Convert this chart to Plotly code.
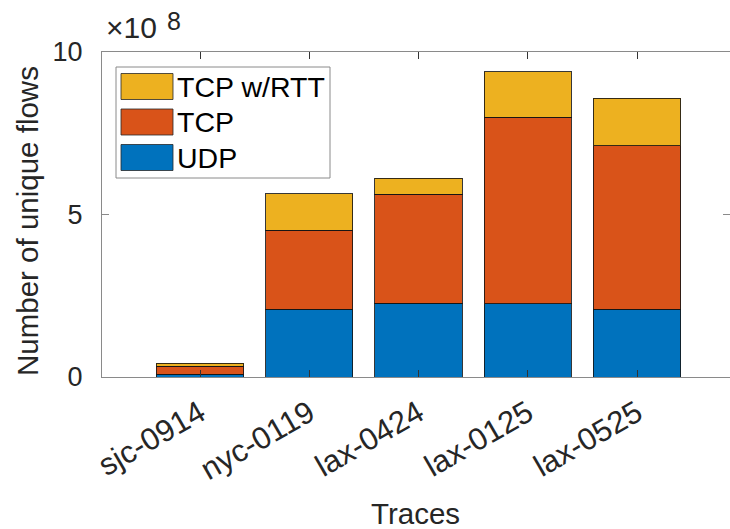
import plotly.graph_objects as go

# Unique flows per trace, in units of 1e8 flows
traces = ["sjc-0914", "nyc-0119", "lax-0424", "lax-0125", "lax-0525"]
udp_flows = [0.09, 2.09, 2.27, 2.26, 2.08]
tcp_flows = [0.24, 2.42, 3.36, 5.74, 5.03]
tcp_rtt_flows = [0.09, 1.13, 0.49, 1.40, 1.47]

series_names = ["UDP", "TCP", "TCP w/RTT"]
series_values = [udp_flows, tcp_flows, tcp_rtt_flows]
series_colors = ["#0072BD", "#D95319", "#EDB120"]

y_tick_values = [0, 5, 10]
y_tick_labels = ["0", "5", "10"]

W, H = 730, 529
L, R, T, B = 102, 0, 52, 152
FONT = "Liberation Sans, Arial, Helvetica, sans-serif"
TEXT = "#262626"
AXIS = "#8a8a8a"


def px(x):
    return (x - L) / (W - L - R)


def py(y):
    return (H - B - y) / (H - T - B)


positions = list(range(1, len(traces) + 1))

fig = go.Figure()
for name, vals, color in zip(series_names, series_values, series_colors):
    fig.add_trace(go.Bar(
        x=positions, y=vals, name=name, width=0.8,
        marker=dict(color=color, line=dict(color="rgba(20,20,20,0.85)", width=1)),
        showlegend=False,
    ))

fig.update_layout(
    width=W, height=H,
    margin=dict(l=L, r=R, t=T, b=B, autoexpand=False),
    barmode="stack",
    plot_bgcolor="white", paper_bgcolor="white",
    font=dict(family=FONT, size=27, color=TEXT),
)

fig.update_xaxes(
    range=[0.103, 5.851],
    tickmode="array", tickvals=positions, ticktext=traces,
    tickangle=-30, ticks="inside", ticklen=7, tickcolor="#333333",
    showline=True, linecolor=AXIS, linewidth=1, mirror="ticks",
    showgrid=False, zeroline=False,
    tickfont=dict(size=31, color=TEXT),
    ticklabelstandoff=5,
)
fig.update_yaxes(
    range=[0, 10],
    tickmode="array", tickvals=y_tick_values, ticktext=y_tick_labels,
    ticks="inside", ticklen=7, tickcolor=AXIS,
    showline=True, linecolor=AXIS, linewidth=1, mirror="ticks",
    showgrid=False, zeroline=False,
    tickfont=dict(size=27, color=TEXT),
    ticklabelstandoff=13,
)

# Axis titles
fig.add_annotation(text="Number of unique flows", xref="paper", yref="paper",
                   x=px(27), y=py(221), textangle=-90, showarrow=False,
                   xanchor="center", yanchor="middle",
                   font=dict(size=29.5, color=TEXT))
fig.add_annotation(text="Traces", xref="paper", yref="paper",
                   x=px(415), y=py(513), showarrow=False,
                   xanchor="center", yanchor="middle",
                   font=dict(size=29.5, color=TEXT))

# Exponent marker above the y axis
fig.add_annotation(text="×10", xref="paper", yref="paper", x=px(104), y=py(46),
                   xanchor="left", yanchor="bottom", showarrow=False,
                   font=dict(size=30, color=TEXT))
fig.add_annotation(text="8", xref="paper", yref="paper", x=px(165), y=py(37),
                   xanchor="left", yanchor="bottom", showarrow=False,
                   font=dict(size=25, color=TEXT))

# Boxed legend, top entry first
box = dict(x0=116, x1=330, y0=67, y1=178)
fig.add_shape(type="rect", xref="paper", yref="paper",
              x0=px(box["x0"]), x1=px(box["x1"]), y0=py(box["y1"]), y1=py(box["y0"]),
              line=dict(color=AXIS, width=1), fillcolor="white", layer="above")
row_centers = [86.5, 122, 157.5]
for yc, name, color in zip(row_centers, series_names[::-1], series_colors[::-1]):
    fig.add_shape(type="rect", xref="paper", yref="paper",
                  x0=px(121), x1=px(173), y0=py(yc + 13), y1=py(yc - 13),
                  line=dict(color="rgba(40,40,40,0.8)", width=1), fillcolor=color,
                  layer="above")
    fig.add_annotation(text=name, xref="paper", yref="paper", x=px(175), y=py(yc),
                       xanchor="left", yanchor="middle", showarrow=False,
                       font=dict(size=28.5, color="#000000"))

fig.write_html("out.html")
